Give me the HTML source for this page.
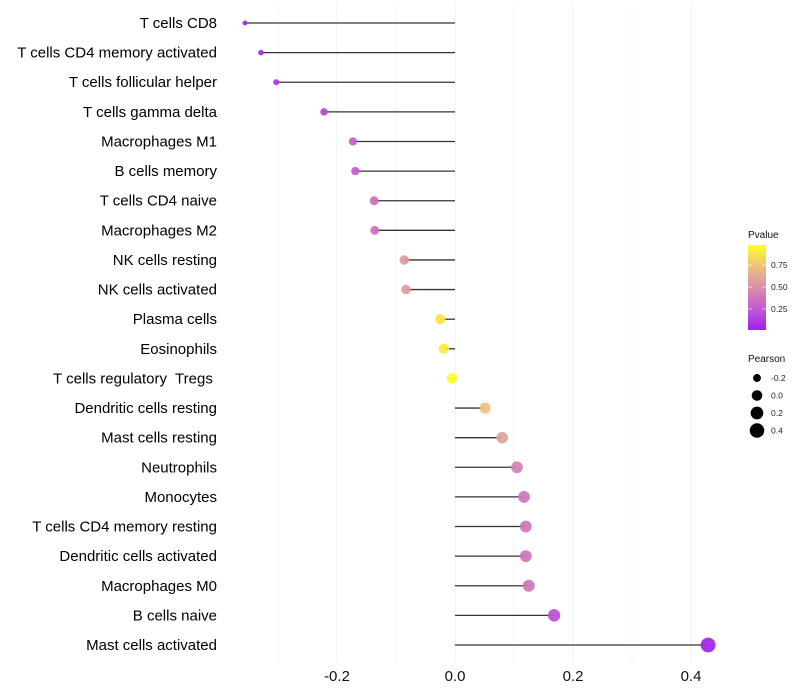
<!DOCTYPE html>
<html><head><meta charset="utf-8"><style>
body{margin:0;background:#fff;}
svg{display:block;font-family:"Liberation Sans",Arial,sans-serif;}
text{white-space:pre;}
</style></head><body>
<svg id="chart" width="800" height="700">
<defs><linearGradient id="pg" x1="0" y1="1" x2="0" y2="0">
<stop offset="0" stop-color="#a020f0"/><stop offset="0.25" stop-color="#c25ad0"/><stop offset="0.5" stop-color="#d98fa8"/><stop offset="0.75" stop-color="#eec07e"/><stop offset="1" stop-color="#ffff22"/></linearGradient></defs>
</svg>
<script>
const categories=["T cells CD8","T cells CD4 memory activated","T cells follicular helper","T cells gamma delta","Macrophages M1","B cells memory","T cells CD4 naive","Macrophages M2","NK cells resting","NK cells activated","Plasma cells","Eosinophils","T cells regulatory  Tregs ","Dendritic cells resting","Mast cells resting","Neutrophils","Monocytes","T cells CD4 memory resting","Dendritic cells activated","Macrophages M0","B cells naive","Mast cells activated"];
const pearson=[-0.356,-0.329,-0.303,-0.222,-0.173,-0.169,-0.137,-0.136,-0.086,-0.083,-0.025,-0.019,-0.005,0.051,0.080,0.105,0.117,0.120,0.120,0.125,0.168,0.429];
const pvalues=[0.02,0.05,0.08,0.15,0.26,0.26,0.34,0.34,0.56,0.57,0.9,0.92,0.99,0.75,0.6,0.43,0.38,0.38,0.38,0.38,0.2,0.01];
const xTicks=[-0.2,0,0.2,0.4];
const xTickLabels=["-0.2","0.0","0.2","0.4"];
const minorTicks=[-0.3,-0.1,0.1,0.3];
const sizeLegend=[-0.2,0,0.2,0.4];
const sizeLegendLabels=["-0.2","0.0","0.2","0.4"];
const pTicks=[0.25,0.5,0.75];
const pTickLabels=["0.25","0.50","0.75"];

const svg=document.getElementById('chart');
const NS='http://www.w3.org/2000/svg';
const x=v=>455+v*590;
const y=i=>23+i*(622/(categories.length-1));
const rad=v=>Math.sqrt(Math.max(2.5,28+62*v));
const stops=[[0,[160,32,240]],[0.25,[194,90,208]],[0.5,[217,143,168]],[0.75,[238,192,126]],[1,[255,255,34]]];
function col(p){for(let k=0;k<stops.length-1;k++){const a=stops[k],b=stops[k+1];if(p<=b[0]){const t=(p-a[0])/(b[0]-a[0]);return 'rgb('+a[1].map((c,j)=>Math.round(c+(b[1][j]-c)*t)).join(',')+')';}}return 'rgb(255,255,34)';}
function el(tag,attrs,parent){const e=document.createElementNS(NS,tag);for(const k in attrs)e.setAttribute(k,attrs[k]);(parent||svg).appendChild(e);return e;}

minorTicks.forEach(v=>{const g=el('line',{x1:x(v),x2:x(v),y1:5,y2:662,stroke:'#f4f4f4','stroke-width':1});

});
xTicks.forEach((v,i)=>{const g=el('line',{x1:x(v),x2:x(v),y1:5,y2:662,stroke:'#efefef','stroke-width':1});


const t=el('text',{x:x(v),y:681,'text-anchor':'middle','font-size':15,fill:'#111'});t.textContent=xTickLabels[i];

});

categories.forEach((c,i)=>{
const t=el('text',{x:217,y:y(i)+5,'text-anchor':'end','font-size':15,fill:'#000'});t.textContent=c;


const ln=el('line',{x1:x(0),x2:x(pearson[i]),y1:y(i),y2:y(i),stroke:'#111','stroke-width':1.3,'stroke-opacity':0.85});


const p=el('circle',{cx:x(pearson[i]),cy:y(i),r:rad(pearson[i]),fill:col(pvalues[i]),'fill-opacity':0.92});


});

// legend
const lg=el('g',{});


let tt=el('text',{x:748,y:238,'font-size':10,fill:'#111'},lg);tt.textContent='Pvalue';


const bar=el('rect',{x:748,y:245,width:18,height:85,fill:'url(#pg)'},lg);


pTicks.forEach((v,i)=>{const yy=330-(v-0.01)/0.97*85;
el('line',{x1:748,x2:752,y1:yy,y2:yy,stroke:'#fff','stroke-opacity':0.6},lg);
el('line',{x1:762,x2:766,y1:yy,y2:yy,stroke:'#fff','stroke-opacity':0.6},lg);
const t=el('text',{x:771,y:yy+3,'font-size':8.5,fill:'#222'},lg);t.textContent=pTickLabels[i];

});
tt=el('text',{x:748,y:362,'font-size':10,fill:'#111'},lg);tt.textContent='Pearson';


sizeLegend.forEach((v,i)=>{const yy=378+i*17.5;
const c=el('circle',{cx:757,cy:yy,r:rad(v),fill:'#000'},lg);


const t=el('text',{x:771,y:yy+3,'font-size':8.5,fill:'#222'},lg);t.textContent=sizeLegendLabels[i];

});
</script>
</body></html>
